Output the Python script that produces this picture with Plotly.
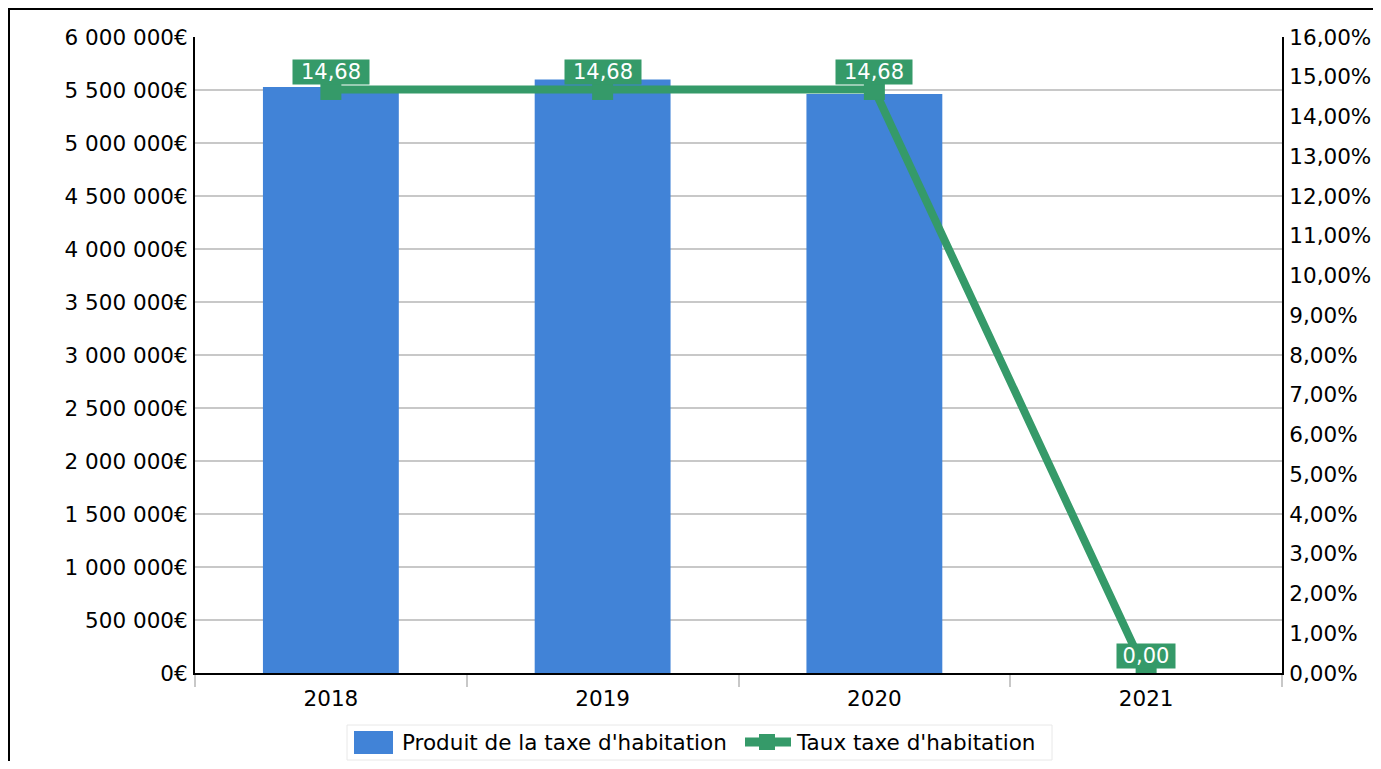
import plotly.graph_objects as go

years = ["2018", "2019", "2020", "2021"]
produit = [5528000, 5599000, 5462000, None]
taux = [14.68, 14.68, 14.68, 0.00]
taux_labels = ["14,68", "14,68", "14,68", "0,00"]
series_names = ["Produit de la taxe d'habitation", "Taux taxe d'habitation"]

left_vals = [i * 500000 for i in range(13)]
left_text = ["0€", "500 000€", "1 000 000€", "1 500 000€", "2 000 000€", "2 500 000€",
             "3 000 000€", "3 500 000€", "4 000 000€", "4 500 000€", "5 000 000€",
             "5 500 000€", "6 000 000€"]
right_vals = list(range(17))
right_text = [f"{v},00%" for v in right_vals]

BLUE = "#4183d7"
GREEN = "#359a69"
FONT = "DejaVu Sans"
FS = 21.5

# screen layout (page body adds an 8px margin around the figure)
OFF = 8
SL, SR, ST, SB = 195, 1282, 37, 673          # plot area on screen
W, H = 1381 - 2 * OFF, 769 - 2 * OFF
L, T = SL - OFF, ST - OFF
R, B = W - (SR - OFF), H - (SB - OFF)
PW, PH = SR - SL, SB - ST


def px(xs):
    return (xs - SL) / PW


def py(ys):
    return (SB - ys) / PH


fig = go.Figure()
fig.add_trace(go.Bar(x=years, y=produit, name=series_names[0],
                     marker=dict(color=BLUE, line=dict(width=0)), width=0.5))
fig.add_trace(go.Scatter(x=years, y=taux, yaxis="y2", name=series_names[1],
                         mode="lines+markers",
                         line=dict(color=GREEN, width=8),
                         marker=dict(symbol="square", size=21, color=GREEN)))

for i, (y, t) in enumerate(zip(taux, taux_labels)):
    fig.add_annotation(x=i, y=y, yref="y2", xref="x", text=t, showarrow=False,
                       yshift=17, bgcolor=GREEN, width=18 * len(t) - 14, height=24,
                       align="center",
                       font=dict(color="white", size=21, family=FONT), borderpad=0)

shapes = []
# outer frame
shapes.append(dict(type="rect", xref="paper", yref="paper",
                   x0=px(9), x1=px(1400), y0=py(790), y1=py(9),
                   line=dict(color="black", width=2), fillcolor="rgba(0,0,0,0)", layer="above"))
# legend frame
shapes.append(dict(type="rect", xref="paper", yref="paper",
                   x0=px(347), x1=px(1052), y0=py(760), y1=py(725),
                   line=dict(color="#e8e8e8", width=1), fillcolor="white"))
# legend: bar swatch
shapes.append(dict(type="rect", xref="paper", yref="paper",
                   x0=px(354), x1=px(393), y0=py(754), y1=py(731),
                   line=dict(width=0), fillcolor=BLUE))
# legend: line swatch
shapes.append(dict(type="line", xref="paper", yref="paper",
                   x0=px(745), x1=px(791), y0=py(742), y1=py(742),
                   line=dict(color=GREEN, width=9)))
shapes.append(dict(type="rect", xref="paper", yref="paper",
                   x0=px(759), x1=px(775), y0=py(750), y1=py(734),
                   line=dict(width=0), fillcolor=GREEN))
fig.update_layout(shapes=shapes)

for xs, name in zip([400, 794], series_names):
    fig.add_annotation(xref="paper", yref="paper", x=px(xs), y=py(742),
                       xanchor="left", yanchor="middle", text=name, showarrow=False,
                       font=dict(size=FS, family=FONT, color="black"))

fig.update_layout(
    width=W, height=H,
    margin=dict(l=L, r=R, t=T, b=B, autoexpand=False),
    paper_bgcolor="white", plot_bgcolor="white",
    font=dict(family=FONT, size=FS, color="black"),
    showlegend=False,
    xaxis=dict(type="category", showline=True, linecolor="black", linewidth=2,
               ticks="outside", tickson="boundaries", ticklen=12, tickcolor="#c8c8c8",
               tickwidth=2, showgrid=False, automargin=False, ticklabelstandoff=5),
    yaxis=dict(range=[0, 6000000], tickvals=left_vals, ticktext=left_text,
               showline=True, linecolor="black", linewidth=2,
               showgrid=True, gridcolor="#c8c8c8", gridwidth=2, zeroline=False,
               ticks="", ticklen=0, ticklabelstandoff=1, automargin=False),
    yaxis2=dict(range=[0, 16], tickvals=right_vals, ticktext=right_text,
                overlaying="y", side="right", showline=True, linecolor="black", linewidth=2,
                showgrid=False, zeroline=False, ticks="", ticklen=0, ticklabelstandoff=1,
                automargin=False),
)

fig.write_html("out.html")
